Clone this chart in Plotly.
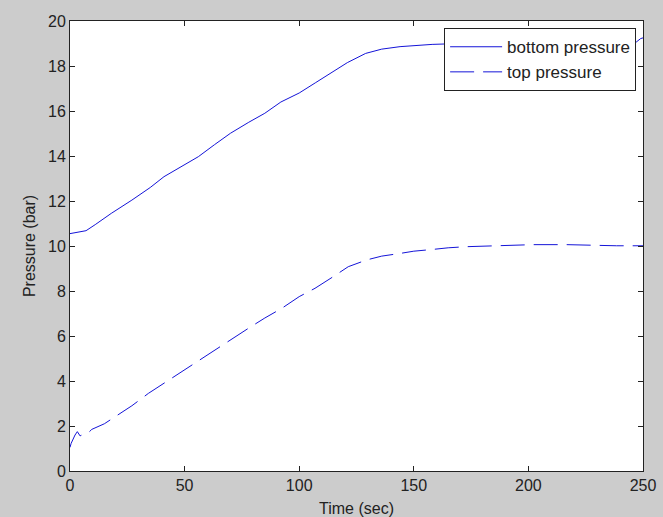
import plotly.graph_objects as go

# ---- data ----
t_bottom = [0, 3, 7, 11, 18, 27, 35, 41, 50, 56, 63, 70, 78, 85, 92, 100, 107,
            114, 121, 129, 136, 144, 151, 158, 170, 185, 200, 215, 230, 240, 245,
            247, 249, 250]
p_bottom = [10.55, 10.62, 10.68, 10.95, 11.45, 12.04, 12.6, 13.08, 13.6, 13.97,
            14.5, 15.01, 15.5, 15.9, 16.4, 16.8, 17.25, 17.7, 18.15, 18.56, 18.75,
            18.86, 18.92, 18.96, 19.0, 19.02, 19.03, 19.03, 19.03, 19.05, 19.08,
            19.06, 19.22, 19.25]

t_top = [0, 0.5, 2.2, 3.2, 4.4, 6.0, 8, 9.5, 15, 19.6, 27, 34.2, 41, 48.7, 56,
         63.3, 70, 77.8, 85, 92.4, 100, 106.9, 114.9, 121.4, 129.4, 136, 144, 150,
         158.5, 165, 173, 187.6, 202, 216.7, 228, 238.5, 250]
p_top = [1.05, 1.23, 1.6, 1.75, 1.56, 1.64, 1.7, 1.85, 2.1, 2.41, 2.9, 3.45, 3.9,
         4.41, 4.9, 5.38, 5.85, 6.34, 6.8, 7.23, 7.75, 8.12, 8.64, 9.08, 9.38,
         9.55, 9.67, 9.77, 9.85, 9.92, 9.97, 10.03, 10.06, 10.06, 10.03, 10.01,
         10.01]

series_names = ["bottom pressure", "top pressure"]
x_ticks = [0, 50, 100, 150, 200, 250]
y_ticks = [0, 2, 4, 6, 8, 10, 12, 14, 16, 18, 20]

LINE_COLOR = "#1414d8"
FONT = "Liberation Sans, Arial, sans-serif"

fig = go.Figure()
fig.add_trace(go.Scatter(x=t_bottom, y=p_bottom, mode="lines", name=series_names[0],
                         line=dict(color=LINE_COLOR, width=1)))
fig.add_trace(go.Scatter(x=t_top, y=p_top, mode="lines", name=series_names[1],
                         line=dict(color=LINE_COLOR, width=1, dash="24px,9px")))

axis_common = dict(showline=True, linecolor="#222", linewidth=1, mirror="ticks",
                   ticks="inside", ticklen=5, tickcolor="#222", showgrid=False,
                   zeroline=False, automargin=False,
                   tickfont=dict(size=16, color="#222", family=FONT))

fig.update_xaxes(range=[0, 250], tickvals=x_ticks, ticktext=[str(v) for v in x_ticks],
                 title=dict(text="Time (sec)", font=dict(size=16, color="#222", family=FONT),
                            standoff=9),
                 **axis_common)
fig.update_yaxes(range=[0, 20], tickvals=y_ticks, ticktext=[str(v) for v in y_ticks],
                 title=dict(text="Pressure (bar)", font=dict(size=16, color="#222", family=FONT),
                            standoff=8),
                 **axis_common)

fig.update_layout(
    width=663, height=517,
    margin=dict(l=70, r=20, t=21, b=46, pad=0),
    paper_bgcolor="#cccccc", plot_bgcolor="white",
    font=dict(family=FONT, size=16, color="#222"),
    legend=dict(x=0.988, y=0.984, xanchor="right", yanchor="top",
                bgcolor="white", bordercolor="#222", borderwidth=1,
                font=dict(size=17, color="#222", family=FONT),
                itemwidth=52, tracegroupgap=2),
    showlegend=True,
)

fig.write_html("out.html")
